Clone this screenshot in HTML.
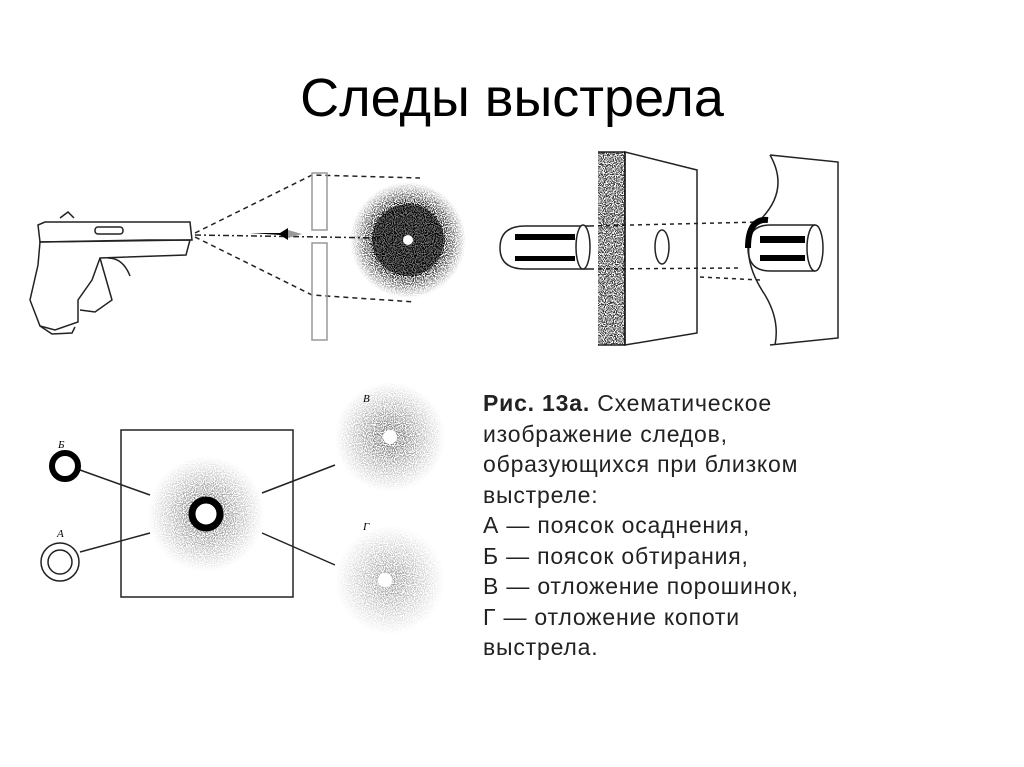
<!DOCTYPE html>
<html><head><meta charset="utf-8"><style>
body{margin:0;background:#fff;width:1024px;height:767px;overflow:hidden;position:relative;font-family:"Liberation Sans",sans-serif}
h1{position:absolute;top:66px;left:0;width:1024px;text-align:center;font-weight:normal;font-size:54px;line-height:64px;margin:0;color:#000}
.cap{position:absolute;left:483px;top:388px;font-size:23px;letter-spacing:0.8px;line-height:30.5px;color:#222}
svg{position:absolute;left:0;top:0}
</style></head><body>
<h1>Следы выстрела</h1>
<svg width="1024" height="767" viewBox="0 0 1024 767">
<defs>
<filter id="st" x="0" y="0" width="100%" height="100%">
<feTurbulence type="fractalNoise" baseFrequency="0.9" numOctaves="1" seed="3" result="n"/>
<feColorMatrix in="n" type="matrix" values="0 0 0 0 0  0 0 0 0 0  0 0 0 0 0  0 0 0 -9 5" result="d"/>
<feComposite in="d" in2="SourceGraphic" operator="in"/>
</filter>
<radialGradient id="soot"><stop offset="0.35" stop-color="#000"/><stop offset="0.6" stop-color="#111"/><stop offset="1" stop-color="#000" stop-opacity="0"/></radialGradient>
<radialGradient id="g2"><stop offset="0.2" stop-color="#000" stop-opacity="0.5"/><stop offset="1" stop-color="#000" stop-opacity="0"/></radialGradient>
</defs>
<g fill="none" stroke="#222" stroke-width="1.5">
<path d="M38 225 L45 222 L190 222 L192 240 L148 240 L40 242 Z"/>
<path d="M40 242 L190 240 L186 255 L100 258 L92 280 L78 300 L78 322 L55 330 L40 326 L30 300 L38 265 Z"/>
<path d="M100 258 L112 300 L95 312 L80 310"/>
<rect x="95" y="227" width="28" height="7" rx="3"/>
<path d="M108 258 q15 0 22 18"/>
<path d="M60 218 l8 -6 l6 6"/>
<path d="M40 326 L52 334 L72 333 L75 327"/>
<path stroke-dasharray="5 4" d="M195 233 L312 175 L420 178"/>
<path stroke-dasharray="5 4" d="M195 237 L312 295 L415 302"/>
<path stroke-dasharray="6 3 2 3" d="M195 235 L320 237 L380 238"/>
<rect x="312" y="173" width="15" height="57" stroke="#999"/>
<rect x="312" y="243" width="15" height="97" stroke="#999"/>
</g>
<path d="M250 233 h30 l8 -5 v12 l-8 -5 z" fill="#000"/>
<path d="M288 230 l14 4 l-14 4z" fill="#999"/>
<circle cx="408" cy="240" r="58" fill="url(#soot)" filter="url(#st)"/>
<circle cx="408" cy="240" r="36" fill="#000" opacity="0.55"/>
<circle cx="408" cy="240" r="5" fill="#fff"/>
<g fill="none" stroke="#222" stroke-width="1.5">
<path d="M590 226 L525 226 Q500 226 500 248 Q500 269 525 269 L590 269"/>
<ellipse cx="583" cy="247" rx="7" ry="22" fill="#fff"/>
<path d="M625 152 L697 170 L697 333 L625 345 Z"/>
<path d="M598 152 L625 152 L625 345 L598 345"/>
<ellipse cx="662" cy="247" rx="7" ry="17"/>
<path d="M770 155 L838 162 L838 338 L770 345"/>
<path d="M770 155 Q790 190 760 220 Q735 250 765 295 Q780 320 775 345"/>
<path stroke-dasharray="4 4" d="M590 226 L760 222 M590 269 L740 268 M700 277 L760 280"/>
<path d="M815 225 L770 225 Q748 225 748 248 Q748 271 770 271 L815 271"/>
<ellipse cx="815" cy="248" rx="8" ry="23" fill="#fff"/>
</g>
<rect x="598" y="152" width="27" height="193" fill="#555" filter="url(#st)" opacity="0.8"/>
<path d="M515 234 h60 v6 h-60z M515 256 h60 v5 h-60z" fill="#000"/>
<path d="M760 236 h45 v7 h-45z M760 255 h45 v6 h-45z" fill="#000"/>
<path d="M748 248 q0 -30 20 -28" stroke="#000" stroke-width="6" fill="none"/>
<g fill="none" stroke="#222" stroke-width="1.5">
<rect x="121" y="430" width="172" height="167"/>
<circle cx="60" cy="562" r="19"/><circle cx="60" cy="562" r="12"/>
<path d="M80 470 L150 495 M80 552 L150 533 M262 493 L335 465 M262 533 L335 565"/>
</g>
<circle cx="65" cy="466" r="13" fill="none" stroke="#000" stroke-width="6"/>
<circle cx="206" cy="514" r="58" fill="url(#g2)" filter="url(#st)"/>
<circle cx="206" cy="514" r="14" fill="#fff" stroke="#000" stroke-width="7"/>
<circle cx="390" cy="437" r="55" fill="url(#g2)" filter="url(#st)"/>
<circle cx="390" cy="437" r="7" fill="#fff"/>
<circle cx="390" cy="580" r="55" fill="url(#g2)" filter="url(#st)" opacity="0.7"/>
<circle cx="385" cy="580" r="7" fill="#fff"/>
<g font-family="Liberation Serif,serif" font-style="italic" font-size="11" fill="#000">
<text x="58" y="448">Б</text><text x="57" y="537">А</text><text x="363" y="402">В</text><text x="363" y="530">Г</text>
</g>
</svg>
<div class="cap"><b>Рис. 13а.</b> Схематическое<br>изображение следов,<br>образующихся при близком<br>выстреле:<br>А — поясок осаднения,<br>Б — поясок обтирания,<br>В — отложение порошинок,<br>Г — отложение копоти<br>выстрела.</div>
</body></html>
